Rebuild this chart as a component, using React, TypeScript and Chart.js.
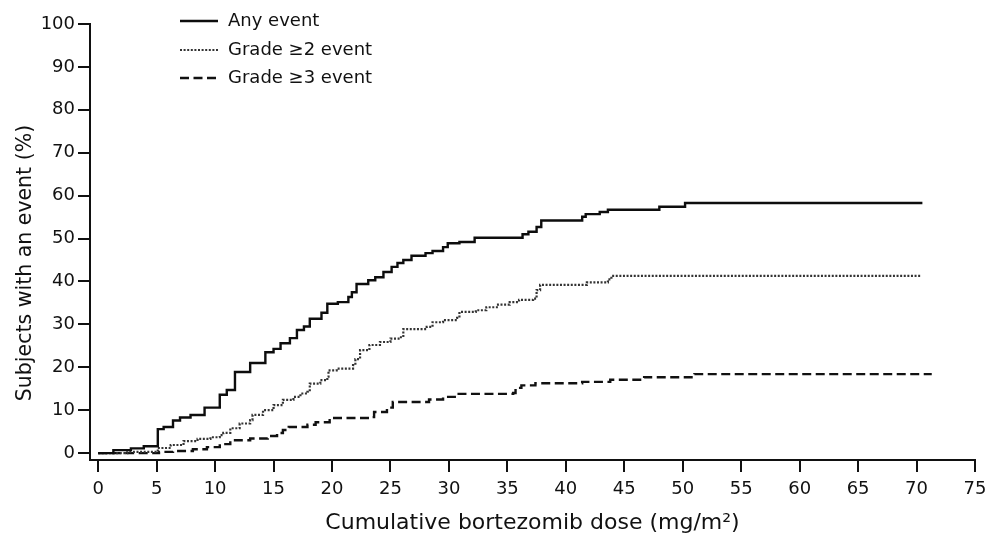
import React, { useEffect, useRef } from "react";
import { Chart, registerables } from "chart.js";

Chart.register(...registerables);

// Cumulative bortezomib dose (mg/m²) at each step, and cumulative % of subjects with an event
const anyX = [0, 1.3, 2.8, 3.9, 5.1, 5.6, 6.4, 7.0, 7.9, 9.1, 10.4, 11.0, 11.7, 13.0, 14.3, 15.0, 15.6, 16.4, 17.0, 17.6, 18.1, 19.1, 19.6, 20.5, 21.4, 21.7, 22.1, 23.1, 23.7, 24.4, 25.1, 25.6, 26.1, 26.8, 28.0, 28.6, 29.5, 29.9, 30.9, 32.2, 36.3, 36.8, 37.5, 37.9, 41.4, 41.7, 42.9, 43.6, 48.0, 50.2, 70.5];
const anyY = [0, 0.7, 1.1, 1.6, 5.6, 6.1, 7.6, 8.3, 8.9, 10.6, 13.6, 14.7, 18.9, 21.0, 23.5, 24.3, 25.6, 26.8, 28.7, 29.5, 31.3, 32.7, 34.8, 35.2, 36.4, 37.5, 39.4, 40.3, 41.0, 42.2, 43.4, 44.3, 45.0, 46.0, 46.6, 47.1, 48.0, 48.9, 49.2, 50.2, 51.0, 51.6, 52.7, 54.2, 55.1, 55.7, 56.2, 56.7, 57.4, 58.3, 58.3];

const g2X = [0, 2.5, 5.1, 6.2, 7.3, 8.5, 9.6, 10.4, 10.7, 11.3, 12.1, 13.0, 13.2, 14.1, 15.0, 15.8, 16.7, 17.3, 17.9, 18.1, 19.0, 19.6, 19.7, 20.4, 21.8, 22.0, 22.4, 23.2, 24.1, 25.0, 25.8, 26.1, 28.1, 28.6, 29.5, 30.7, 30.9, 32.3, 33.2, 34.2, 35.2, 36.0, 37.2, 37.5, 37.8, 41.6, 41.8, 43.6, 43.9, 70.4];
const g2Y = [0, 0.3, 1.2, 1.9, 2.8, 3.3, 3.7, 4.2, 4.7, 5.8, 6.9, 7.7, 8.9, 10.0, 11.2, 12.4, 13.1, 13.9, 14.3, 16.2, 17.0, 17.8, 19.3, 19.7, 20.5, 21.9, 24.0, 25.2, 25.9, 26.7, 27.0, 28.9, 29.4, 30.5, 31.0, 31.5, 32.9, 33.3, 34.0, 34.6, 35.2, 35.7, 36.0, 38.0, 39.2, 39.2, 39.8, 40.5, 41.3, 41.3];

const g3X = [0, 5.2, 6.4, 8.1, 9.3, 10.4, 11.3, 13.0, 14.5, 15.3, 15.8, 16.3, 17.9, 18.6, 19.8, 23.2, 23.6, 24.7, 25.2, 28.3, 29.5, 30.5, 35.5, 35.7, 36.2, 37.4, 41.4, 43.8, 46.7, 51.0, 71.3];
const g3Y = [0, 0.3, 0.5, 0.9, 1.4, 2.1, 3.0, 3.4, 4.0, 4.7, 5.4, 6.1, 6.6, 7.2, 8.2, 8.4, 9.6, 10.6, 11.9, 12.5, 13.1, 13.8, 14.0, 15.2, 15.8, 16.3, 16.6, 17.1, 17.7, 18.4, 18.4];

const seriesLabels = ["Any event", "Grade \u22652 event", "Grade \u22653 event"];
const xTicks = [0, 5, 10, 15, 20, 25, 30, 35, 40, 45, 50, 55, 60, 65, 70, 75];
const yTicks = [0, 10, 20, 30, 40, 50, 60, 70, 80, 90, 100];
const xTitle = "Cumulative bortezomib dose (mg/m\u00b2)";
const yTitle = "Subjects with an event (%)";

const FONT = '"DejaVu Sans", sans-serif';
const INK = "#111111";

const toPts = (xs: number[], ys: number[]) => xs.map((x, i) => ({ x, y: ys[i] }));

const legendPlugin = {
  id: "insetLegend",
  afterDraw(chart: any) {
    const ctx = chart.ctx;
    const rows = [21, 50, 78];
    ctx.save();
    chart.data.datasets.forEach((ds: any, i: number) => {
      const y = rows[i];
      ctx.beginPath();
      ctx.strokeStyle = ds.borderColor;
      ctx.lineWidth = ds.borderWidth;
      ctx.setLineDash(ds.borderDash || []);
      ctx.moveTo(180, y);
      ctx.lineTo(218, y);
      ctx.stroke();
      ctx.setLineDash([]);
      ctx.fillStyle = INK;
      ctx.font = `18px ${FONT}`;
      ctx.textAlign = "left";
      ctx.textBaseline = "middle";
      ctx.fillText(ds.label, 228, y);
    });
    ctx.restore();
  },
};

const yTitlePlugin = {
  id: "yTitleText",
  afterDraw(chart: any) {
    const ctx = chart.ctx;
    ctx.save();
    ctx.translate(26, 263);
    ctx.rotate(-Math.PI / 2);
    ctx.fillStyle = INK;
    ctx.font = `20.5px ${FONT}`;
    ctx.textAlign = "center";
    ctx.textBaseline = "middle";
    ctx.fillText(yTitle, 0, 0);
    ctx.restore();
  },
};

export default function App() {
  const ref = useRef<HTMLCanvasElement | null>(null);

  useEffect(() => {
    if (!ref.current) return;
    const chart = new Chart(ref.current, {
      type: "line",
      data: {
        datasets: [
          {
            label: seriesLabels[0],
            data: toPts(anyX, anyY),
            borderColor: "#0d0d0d",
            borderWidth: 2.4,
            stepped: true,
            pointRadius: 0,
            fill: false,
          },
          {
            label: seriesLabels[1],
            data: toPts(g2X, g2Y),
            borderColor: "#333333",
            borderWidth: 2.2,
            borderDash: [2, 1.6],
            stepped: true,
            pointRadius: 0,
            fill: false,
          },
          {
            label: seriesLabels[2],
            data: toPts(g3X, g3Y),
            borderColor: "#111111",
            borderWidth: 2.4,
            borderDash: [9, 4.5],
            stepped: true,
            pointRadius: 0,
            fill: false,
          },
        ],
      },
      options: {
        animation: false,
        responsive: false,
        devicePixelRatio: 1,
        layout: { padding: { top: 24, right: 14, bottom: 0, left: 0 } },
        plugins: {
          legend: { display: false },
          tooltip: { enabled: false },
        },
        scales: {
          x: {
            type: "linear",
            min: -0.7,
            max: 75,
            afterBuildTicks: (scale: any) => {
              scale.ticks = xTicks.map((v) => ({ value: v }));
            },
            afterFit: (scale: any) => {
              scale.height = 78;
              scale.paddingRight = 0;
              scale.paddingLeft = 0;
            },
            ticks: {
              autoSkip: false,
              maxRotation: 0,
              padding: 7,
              color: INK,
              font: { family: FONT, size: 18 },
            },
            grid: {
              display: true,
              drawOnChartArea: false,
              drawTicks: true,
              tickLength: 12,
              color: INK,
              lineWidth: 2,
            },
            border: { display: true, color: INK, width: 2 },
            title: {
              display: true,
              text: xTitle,
              color: INK,
              font: { family: FONT, size: 22 },
              padding: { top: 0, bottom: 2 },
            },
          },
          y: {
            type: "linear",
            min: -1.6,
            max: 100,
            afterBuildTicks: (scale: any) => {
              scale.ticks = yTicks.map((v) => ({ value: v }));
            },
            afterFit: (scale: any) => {
              scale.width = 90;
              scale.paddingTop = 0;
              scale.paddingBottom = 0;
            },
            ticks: {
              autoSkip: false,
              padding: 3,
              color: INK,
              font: { family: FONT, size: 18 },
            },
            grid: {
              display: true,
              drawOnChartArea: false,
              drawTicks: true,
              tickLength: 12,
              color: INK,
              lineWidth: 2,
            },
            border: { display: true, color: INK, width: 2 },
          },
        },
      },
      plugins: [legendPlugin, yTitlePlugin],
    } as any);
    return () => chart.destroy();
  }, []);

  return (
    <div style={{ position: "absolute", left: 0, top: 0, width: 989, height: 538, background: "#fff" }}>
      <canvas ref={ref} width={989} height={538} style={{ display: "block" }} />
    </div>
  );
}
